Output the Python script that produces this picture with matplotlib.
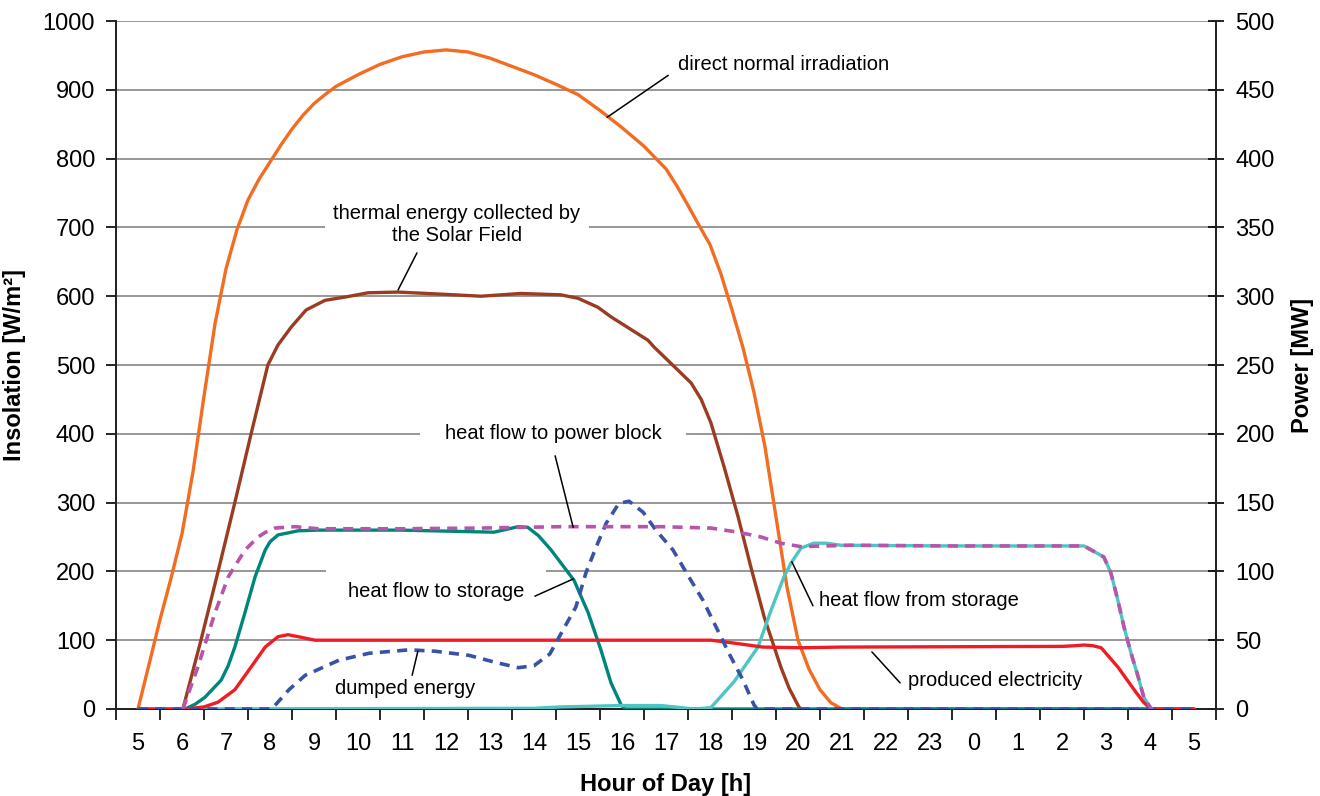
import matplotlib
matplotlib.use("Agg")
import matplotlib.pyplot as plt

plt.rcParams['font.family'] = ['Liberation Sans', 'DejaVu Sans']

# x labels: hour of day from 5:00 to 5:00 next morning
hour_labels = [str(h % 24) for h in range(5, 30)]

# clock hours (values past 24 belong to the next day)
dni_hours = [5.0, 5.25, 5.5, 5.75, 6.0, 6.25, 6.5, 6.75, 7.0, 7.25, 7.5, 7.75, 8.0, 8.25, 8.5, 8.75,
             9.0, 9.25, 9.5, 10.0, 10.5, 11.0, 11.5, 12.0, 12.5, 13.0, 13.5, 14.0, 14.5, 15.0,
             15.5, 16.0, 16.5, 17.0, 17.25, 17.5, 17.75, 18.0, 18.25, 18.5, 18.75, 19.0, 19.25,
             19.5, 19.75, 20.0, 20.25, 20.5, 20.75, 21.0, 29.0]
dni_wm2 = [0, 65, 130, 190, 255, 345, 455, 560, 640, 697, 740, 770, 795, 820, 843, 863,
           880, 893, 905, 922, 937, 948, 955, 958, 955, 946, 934, 922, 908, 893,
           870, 845, 818, 785, 760, 732, 703, 675, 632, 580, 525, 460, 381,
           279, 177, 100, 58, 28, 9, 0, 0]

field_hours = [6.02, 6.43, 6.82, 7.2, 7.57, 7.95, 8.18, 8.48, 8.82, 9.25, 9.73, 10.23, 10.91, 11.89,
               12.8, 13.7, 14.61, 15.0, 15.45, 15.75, 16.59, 16.73, 17.57, 17.8, 18.02, 18.32,
               18.64, 18.93, 19.23, 19.61, 19.8, 20.02, 20.07]
field_mw = [0, 50, 100, 150, 200, 250, 264.5, 277.5, 290, 297, 299.5, 302.5, 303, 301.5,
            300, 302, 301, 298.5, 292, 285, 268, 263, 237, 225, 208, 176,
            139.5, 103, 67, 30.5, 15, 1.5, 0]

to_storage_hours = [6.07, 6.3, 6.52, 6.89, 7.05, 7.2, 7.43, 7.66, 7.89, 8.0, 8.18, 8.64, 9.09,
                    10.98, 13.09, 13.64, 13.86, 14.1, 14.39, 14.91, 15.23, 15.52, 15.75, 15.98,
                    16.07, 29.0]
to_storage_mw = [0, 3.5, 8.5, 21, 31.5, 45, 70, 96, 115.5, 121.5, 126.5, 129.5, 130,
                 130, 128.5, 132.5, 132, 126, 115.5, 93.5, 70, 43, 19, 3,
                 0, 0]

from_storage_hours = [5.0, 14.0, 14.61, 15.98, 16.89, 17.64, 18.02, 18.55, 19.09, 19.39, 19.68,
                      19.84, 20.07, 20.36, 20.64, 20.98, 23.48, 25.52, 26.5, 26.95, 27.11, 27.27,
                      27.41, 27.57, 27.73, 27.86, 28.02, 28.07, 29.0]
from_storage_mw = [0, 0.5, 1.5, 2.5, 2.5, 0, 1, 20, 45, 72, 96,
                   106, 117, 120.5, 120.5, 119, 118.5, 118.5, 118.5, 110.5, 99, 79,
                   59.5, 40.5, 23.5, 8.5, 0.5, 0, 0]

power_block_hours = [6.02, 6.36, 6.75, 7.05, 7.43, 7.73, 7.9, 8.11, 8.57, 9.09, 10.98, 12.8, 14.61,
                     16.89, 18.02, 18.64, 19.16, 19.61, 20.07, 21.2, 23.48, 25.52, 26.5, 26.95,
                     27.11, 27.27, 27.41, 27.57, 27.73, 27.86, 28.02, 28.07]
power_block_mw = [0, 30.5, 70, 96, 115.5, 125, 128.5, 131.5, 132.5, 131, 131, 131.5, 132.5,
                  132.5, 131.5, 128.5, 125, 120.5, 118, 119, 118.5, 118.5, 118.5, 110.5,
                  99, 79, 59.5, 40.5, 23.5, 8.5, 0.5, 0]

electricity_hours = [5.0, 6.07, 6.5, 6.82, 7.2, 7.57, 7.89, 8.18, 8.41, 8.8, 9.02, 18.02, 18.52, 19.2,
                     20.07, 21.0, 26.0, 26.3, 26.5, 26.7, 26.89, 27.27, 27.64, 27.85, 28.02, 29.0]
electricity_mw = [0, 0, 1.5, 5, 14, 30.5, 45, 52.5, 54, 51.5, 50, 50, 48, 45,
                  44.5, 45, 45.5, 46, 46.5, 46, 44.5, 30.5, 14, 5, 0, 0]

dumped_hours = [5.0, 8.04, 8.43, 8.8, 9.57, 10.25, 11.16, 11.75, 12.52, 13.11, 13.64, 14.0, 14.36,
                14.66, 14.95, 15.18, 15.41, 15.64, 15.93, 16.16, 16.48, 16.77, 17.16, 17.52,
                17.84, 18.14, 18.43, 18.75, 19.0, 19.07, 29.0]
dumped_mw = [0, 0, 14, 24.5, 35.5, 40.5, 43, 42, 39, 34, 30, 31.5, 40,
             57.5, 74, 99, 117.5, 135, 149.5, 151, 143, 130, 115.5, 96,
             79, 59.5, 40.5, 21, 3, 0, 0]


def pos(hours):
    # category axis: label for 5:00 sits at the centre of the first slot
    return [h - 4.5 for h in hours]


def make_chart():
    fig = plt.figure(figsize=(13.2, 7.96), dpi=100)
    ax = fig.add_axes([0.0879, 0.1093, 0.8333, 0.8643])
    ax2 = ax.twinx()

    ax.set_xlim(0, 25)
    ax.set_ylim(0, 1000)
    ax2.set_ylim(0, 500)

    # gridlines, broken by the white label boxes
    for y in range(100, 1001, 100):
        ax.axhline(y, color='#858585', lw=1.2, zorder=0.5)

    solid = dict(lw=2.4, solid_joinstyle='round', solid_capstyle='round')
    dashed = dict(lw=2.6, ls=(0, (2.8, 2.0)), dash_joinstyle='round', dash_capstyle='butt')

    ax.plot(pos(dni_hours), dni_wm2, color='#f26d21', zorder=3, **solid)

    ax2.plot(pos(field_hours), field_mw, color='#9b3b22', zorder=2, **solid)
    ax2.plot(pos(to_storage_hours), to_storage_mw, color='#00857c', zorder=3, **solid)
    ax2.plot(pos(from_storage_hours), from_storage_mw, color='#4cc5c5', zorder=3, **solid)
    ax2.plot(pos(electricity_hours), electricity_mw, color='#ee1c25', zorder=4, **solid)
    ax2.plot(pos(dumped_hours), dumped_mw, color='#3a52a6', zorder=5, **dashed)
    ax2.plot(pos(power_block_hours), power_block_mw, color='#b656aa', zorder=6, **dashed)

    # labels with white boxes + leader lines
    box = dict(facecolor='white', edgecolor='none')
    fs = 14.5
    ax.text(15.18, 937, 'direct normal irradiation', fontsize=fs, ha='center', va='center',
            zorder=1, bbox=dict(box, pad=4))
    ax.text(7.75, 704, 'thermal energy collected by\nthe Solar Field', fontsize=fs, ha='center',
            va='center', multialignment='center', zorder=1, bbox=dict(box, pad=6))
    ax.text(9.93, 400, 'heat flow to power block', fontsize=fs, ha='center', va='center',
            zorder=1, bbox=dict(box, pad=18))
    ax.text(7.27, 171, 'heat flow to storage', fontsize=fs, ha='center', va='center',
            zorder=1, bbox=dict(box, pad=16))
    ax.text(6.57, 30, 'dumped energy', fontsize=fs, ha='center', va='center', zorder=1)
    ax.text(18.25, 158, 'heat flow from storage', fontsize=fs, ha='center', va='center', zorder=1)
    ax.text(19.98, 42, 'produced electricity', fontsize=fs, ha='center', va='center', zorder=1)

    leaders = [((12.55, 921), (11.16, 860)),
               ((6.84, 663), (6.41, 609)),
               ((9.98, 368), (10.39, 264)),
               ((9.52, 164), (10.39, 189)),
               ((6.73, 49), (6.86, 84)),
               ((15.84, 150), (15.36, 214)),
               ((17.82, 38), (17.18, 83))]
    for start, end in leaders:
        ax2.annotate('', xy=(end[0], end[1] / 2), xytext=(start[0], start[1] / 2),
                     arrowprops=dict(arrowstyle='-', color='black', lw=1.1, shrinkA=0, shrinkB=0),
                     zorder=7)

    # x axis: ticks on slot borders, labels in slot centres
    ax.set_xticks(range(26))
    ax.set_xticklabels([])
    ax.set_xticks([i + 0.5 for i in range(25)], minor=True)
    ax.set_xticklabels(hour_labels, minor=True, fontsize=17)
    ax.tick_params(axis='x', which='major', direction='out', length=8, width=1.2)
    ax.tick_params(axis='x', which='minor', length=0, pad=17)

    ax.set_yticks(range(0, 1001, 100))
    ax.tick_params(axis='y', direction='out', length=7, width=1.2, labelsize=17, pad=8)
    ax2.set_yticks(range(0, 501, 50))
    ax2.tick_params(axis='y', direction='inout', length=12, width=1.2, labelsize=17, pad=8)

    for a in (ax, ax2):
        a.spines['top'].set_visible(False)
        for s in ('left', 'right', 'bottom'):
            a.spines[s].set_color('#222222')
            a.spines[s].set_linewidth(1.3)

    ax.set_xlabel('Hour of Day [h]', fontsize=17, fontweight='bold', labelpad=13)
    ax.set_ylabel('Insolation [W/m²]', fontsize=17, fontweight='bold', labelpad=12)
    ax2.set_ylabel('Power [MW]', fontsize=17, fontweight='bold', labelpad=12)

    fig.savefig('out.png', dpi=100)
    plt.close(fig)


if __name__ == "__main__":
    make_chart()
